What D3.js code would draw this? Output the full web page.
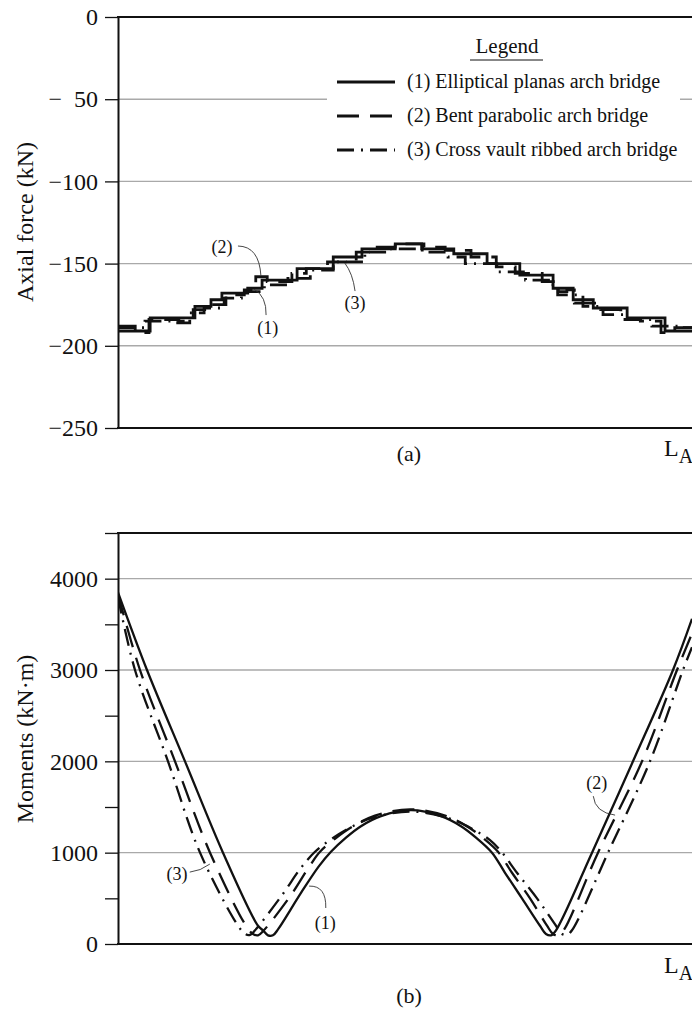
<!DOCTYPE html>
<html><head><meta charset="utf-8">
<script src="https://cdn.jsdelivr.net/npm/d3@7"></script>
<style>
body{margin:0;background:#fff}
svg{display:block;font-family:"Liberation Serif","Times New Roman",serif}
</style></head><body>
<svg id="c" width="692" height="1010"></svg>
<script>
// ---------- DATA (x = position along span L_A, %) ----------
// (a) Axial force (kN), stepped
const axialX1 = [0,5.6,13.4,16.2,18.1,22.6,25.1,31.2,37.5,42.5,48.3,52.9,58.5,64.3,70.0,75.8,79.3,82.8,88.7,95.3,100];
const axialY1 = [-191,-183,-176,-172,-168,-165,-160,-153,-146,-141,-138,-141,-144,-150,-157,-165,-172,-177,-183,-191,-191];
const axialX2 = [0,3.0,5.4,10.6,13.1,15.7,18.8,22.0,24.0,26.0,30.3,32.8,36.5,41.5,44.5,48.3,53.3,57.0,61.5,65.9,69.2,73.9,76.7,78.2,79.5,84.1,87.6,91.0,94.6,97.0,100];
const axialY2 = [-188,-192,-184,-185,-178,-175,-169,-166,-158,-161,-156,-153,-149,-143,-140,-138,-140,-142,-146,-152,-156,-161,-167,-166,-174,-178,-184,-185,-192,-189,-189];
const axialX3 = [0,4.7,10.4,12.5,15.0,18.5,21.5,25.5,29.6,33.5,37.5,43.0,47.4,53.0,57.5,60.5,66.0,71.0,75.0,76.6,81.0,84.5,88.5,93.0,98.0,100];
const axialY3 = [-189,-185,-186,-180,-177,-171,-167,-163,-159,-154,-149,-143,-141,-143,-146,-150,-155,-160,-163,-169,-176,-181,-184,-188,-189,-189];
const axialTicks = [0,-50,-100,-150,-200,-250];
const axialGrid = [-50,-100,-150,-200];

// (b) Moments (kN·m)
const momX1 = [0,5.05,11.67,18.29,24.39,25.26,26.13,26.99,27.87,31.88,34.98,37.1,39.72,42.33,45.82,51.05,56.27,59.76,62.37,65.16,67.42,70.38,73.52,74.56,75.44,76.31,82.58,89.72,96.69,100];
const momY1 = [3850,3000,2000,1000,200,150,95,95,160,560,850,1010,1165,1290,1400,1465,1400,1290,1165,1000,780,500,200,110,95,150,1000,2000,3000,3560];
const momX2 = [0,3.83,9.93,16.03,22.3,23.52,24.39,25.26,29.97,33.45,35.19,37.8,40.77,44.77,50.87,56.97,60.98,63.76,66.2,68.64,71.78,74.74,75.78,76.66,77.53,83.62,91.29,97.39,100];
const momY2 = [3830,3000,2000,1000,200,110,95,140,520,860,1010,1152,1282,1405,1475,1405,1282,1152,1010,780,500,200,110,95,140,1000,2000,3000,3400];
const momX3 = [0,2.96,8.71,14.29,20.91,22.13,23.0,23.87,28.75,31.71,34.32,36.93,40.07,44.25,50.87,57.49,61.67,64.81,66.8,69.51,73.0,76.31,77.35,78.22,79.09,85.37,92.68,98.43,100];
const momY3 = [3800,3000,2000,1000,200,110,100,150,550,820,1010,1138,1262,1380,1450,1380,1262,1138,1010,780,500,200,110,100,150,1000,2000,3000,3250];
const momTicks = [0,500,1000,1500,2000,2500,3000,3500,4000,4500];
const momLabels = [0,1000,2000,3000,4000];
const momGrid = [1000,2000,3000,4000];

const legendLabels = ["(1) Elliptical planas arch bridge","(2) Bent parabolic arch bridge","(3) Cross vault ribbed arch bridge"];
const dashes = [null,"22,11","17,7,2,7"];

// annotations [label, labelX, labelY, x0,y0, cx,cy, x1,y1] in data units
const axialNotes = [
  ["(2)",18.1,-140, 20.9,-139.3, 24.6,-139.5, 24.9,-157.5],
  ["(1)",26.1,-189, 25.8,-181.3, 25.9,-170, 23.7,-165.5],
  ["(3)",41.3,-174, 41.3,-166.7, 40.9,-156, 39.5,-149.6]
];
const momNotes = [
  ["(3)",10.3,766, 12.5,787, 14.4,800, 16.0,875],
  ["(1)",36.1,230, 36.2,394, 36.3,640, 33.3,634],
  ["(2)",83.4,1761, 82.8,1619, 83.1,1440, 86.6,1411]
];

// ---------- DRAW ----------
const svg = d3.select("#c");
const L = 118, R = 692;
const x = d3.scaleLinear([0,100],[L,R]);
const yA = d3.scaleLinear([-250,0],[428,17]);
const yB = d3.scaleLinear([0,4500],[944,533]);
const ink = "#111", gridC = "#a9a9a9";

svg.append("defs").append("clipPath").attr("id","clipA")
  .append("rect").attr("x",L).attr("y",0).attr("width",R-L).attr("height",1010);

function panel(y, grid) {
  const g = svg.append("g");
  g.selectAll(".grid").data(grid).join("line")
    .attr("x1",L).attr("x2",R).attr("y1",d=>y(d)).attr("y2",d=>y(d))
    .attr("stroke",gridC).attr("stroke-width",1.4);
  return g;
}

function axisPanel(g, y, ticks, labelFmt, showLabel) {
  const ax = d3.axisLeft(y).tickValues(ticks).tickSize(13).tickSizeOuter(0).tickPadding(7)
    .tickFormat(d => showLabel(d) ? labelFmt(d) : "");
  const a = g.append("g").attr("transform",`translate(${L},0)`).call(ax);
  a.select(".domain").attr("stroke",ink).attr("stroke-width",2);
  a.selectAll(".tick line").attr("stroke",ink).attr("stroke-width",1.3);
  a.selectAll(".tick text").attr("fill",ink).attr("font-size",24)
    .attr("font-family","Liberation Serif, serif").style("white-space","pre");
  const dom = y.domain();
  [dom[0],dom[1]].forEach(v => g.append("line").attr("x1",L-1).attr("x2",R)
    .attr("y1",y(v)).attr("y2",y(v)).attr("stroke",ink).attr("stroke-width",2));
}

function drawNotes(g, notes, y) {
  notes.forEach(n => {
    g.append("text").attr("x",x(n[1])).attr("y",y(n[2])).attr("dy","0.35em")
      .attr("text-anchor","middle").attr("font-size",18).attr("fill",ink).text(n[0]);
    const p = d3.path();
    p.moveTo(x(n[3]),y(n[4])); p.quadraticCurveTo(x(n[5]),y(n[6]),x(n[7]),y(n[8]));
    g.append("path").attr("d",p.toString()).attr("fill","none").attr("stroke","#333").attr("stroke-width",0.9);
  });
}

// ----- Panel (a) -----
const gA = panel(yA, axialGrid);
gA.append("rect").attr("x",327).attr("y",28).attr("width",353).attr("height",140).attr("fill","#fff");
const seriesA = [[axialX1,axialY1],[axialX2,axialY2],[axialX3,axialY3]];
const lineA = d3.line().x(d=>x(d[0])).y(d=>yA(d[1])).curve(d3.curveStepAfter);
seriesA.forEach((s,i) => {
  gA.append("path").datum(s[0].map((v,k)=>[v,s[1][k]]))
    .attr("d",lineA).attr("fill","none").attr("stroke",ink).attr("stroke-width",2.8)
    .attr("stroke-dasharray",dashes[i]).attr("clip-path","url(#clipA)");
});
axisPanel(gA, yA, axialTicks, d => d===0 ? "0" : (d===-50 ? "−  50" : "−"+Math.abs(d)), d=>true);
drawNotes(gA, axialNotes, yA);
const lg = gA.append("g");
lg.append("text").attr("x",507).attr("y",53).attr("text-anchor","middle").attr("font-size",21).attr("fill",ink).text("Legend");
lg.append("line").attr("x1",470).attr("x2",543).attr("y1",60).attr("y2",60).attr("stroke",ink).attr("stroke-width",1);
legendLabels.forEach((t,i) => {
  const yy = 82 + i*34;
  lg.append("line").attr("x1",337).attr("x2",395).attr("y1",yy).attr("y2",yy)
    .attr("stroke",ink).attr("stroke-width",2.8).attr("stroke-dasharray",dashes[i]);
  lg.append("text").attr("x",407).attr("y",yy+6).attr("font-size",20).attr("fill",ink).text(t);
});
svg.append("text").attr("transform","translate(33,222) rotate(-90)").attr("text-anchor","middle")
  .attr("font-size",24).attr("fill",ink).text("Axial force (kN)");
const la = svg.append("text").attr("x",664).attr("y",456).attr("font-size",24).attr("fill",ink);
la.append("tspan").text("L"); la.append("tspan").attr("dy",7).attr("font-size",20).text("A");
svg.append("text").attr("x",409).attr("y",461).attr("text-anchor","middle").attr("font-size",22).attr("fill",ink).text("(a)");

// ----- Panel (b) -----
const gB = panel(yB, momGrid);
const seriesB = [[momX1,momY1],[momX2,momY2],[momX3,momY3]];
const lineB = d3.line().x(d=>x(d[0])).y(d=>yB(d[1])).curve(d3.curveCatmullRom.alpha(0.5));
seriesB.forEach((s,i) => {
  gB.append("path").datum(s[0].map((v,k)=>[v,s[1][k]]))
    .attr("d",lineB).attr("fill","none").attr("stroke",ink).attr("stroke-width",2.3)
    .attr("stroke-dasharray",dashes[i]).attr("clip-path","url(#clipA)");
});
axisPanel(gB, yB, momTicks, d => String(d), d => momLabels.includes(d));
drawNotes(gB, momNotes, yB);
svg.append("text").attr("transform","translate(33,739) rotate(-90)").attr("text-anchor","middle")
  .attr("font-size",24).attr("fill",ink).text("Moments (kN·m)");
const lb = svg.append("text").attr("x",664).attr("y",973).attr("font-size",24).attr("fill",ink);
lb.append("tspan").text("L"); lb.append("tspan").attr("dy",7).attr("font-size",20).text("A");
svg.append("text").attr("x",409).attr("y",1003).attr("text-anchor","middle").attr("font-size",22).attr("fill",ink).text("(b)");
</script></body></html>
